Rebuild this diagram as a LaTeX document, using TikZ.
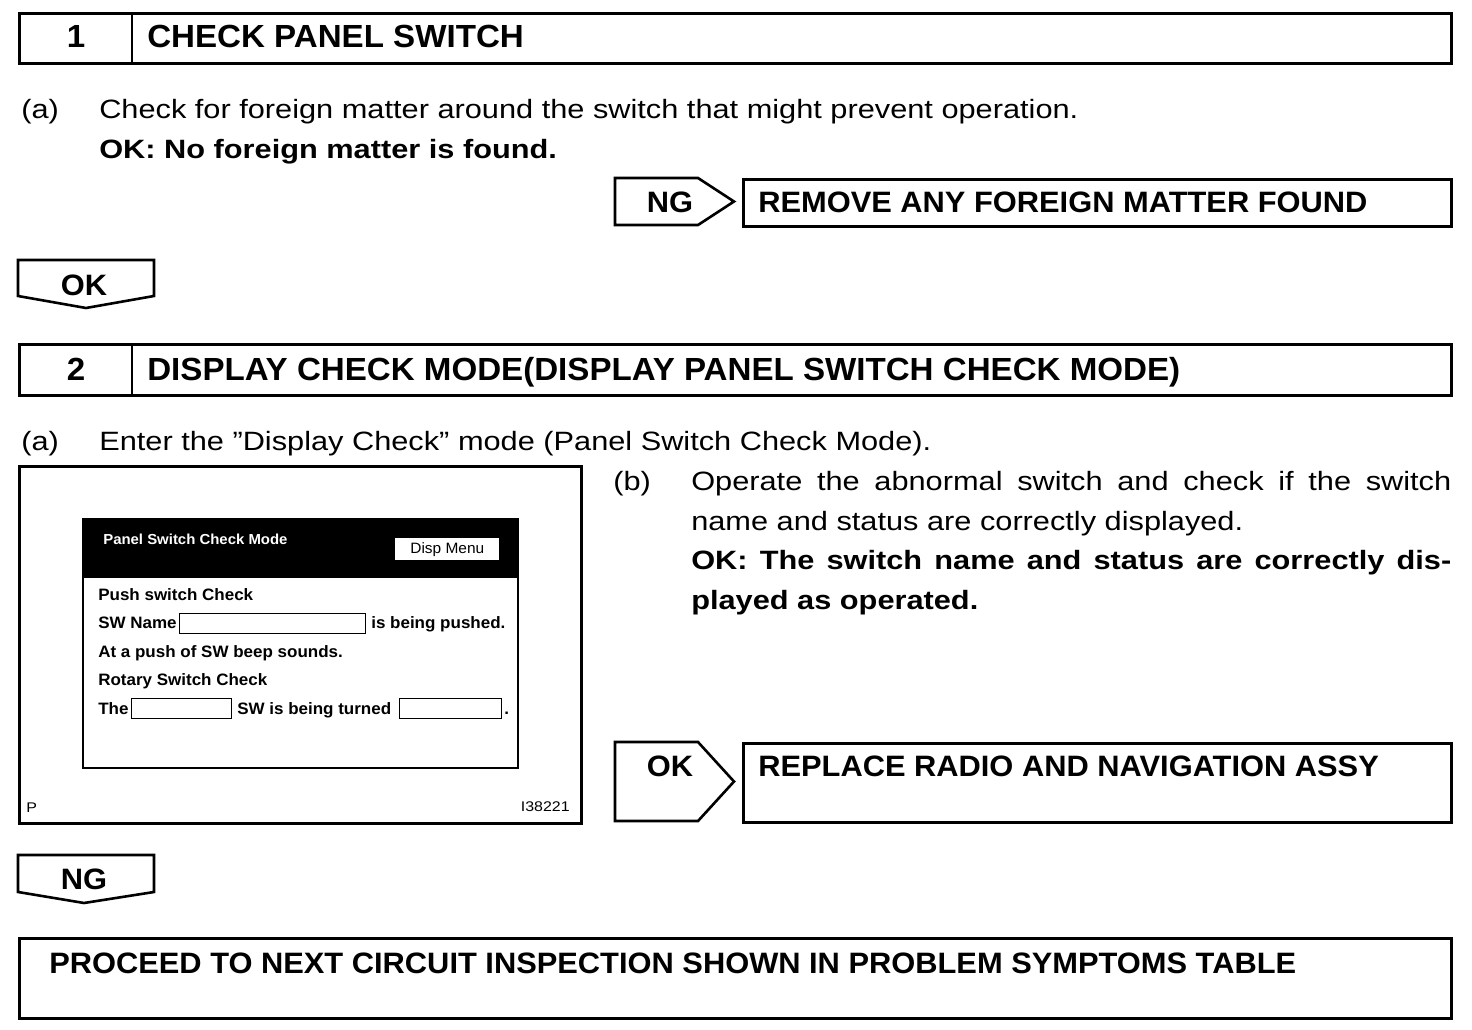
\documentclass[tikz,border=0pt]{standalone}
\usepackage{fontspec}
\setmainfont{Liberation Sans}
\newfontfamily\bodyfont[FakeStretch=1.16]{Liberation Sans}
\newfontfamily\headfont[FakeStretch=1.035]{Liberation Sans}
\newfontfamily\resfont[FakeStretch=1.045]{Liberation Sans}
\newfontfamily\scrfont[FakeStretch=1.03]{Liberation Sans}
\newfontfamily\smallfont[FakeStretch=1.14]{Liberation Sans}
\usetikzlibrary{positioning}

\begin{document}
\begin{tikzpicture}[x=1pt, y=-1pt, line width=2.6pt, line join=miter,
    box/.style={draw, rectangle, inner sep=0pt, anchor=north west},
    title/.style={font=\headfont\fontsize{32}{38}\selectfont\bfseries, anchor=base west, inner sep=0pt},
    body/.style={font=\bodyfont\fontsize{26.5}{40}\selectfont, anchor=base west, inner sep=0pt},
    bodybf/.style={body, font=\bodyfont\fontsize{26.5}{40}\selectfont\bfseries},
    result/.style={font=\resfont\fontsize{29.5}{34}\selectfont\bfseries, anchor=base west, inner sep=0pt},
    scr/.style={font=\scrfont\fontsize{16.5}{20}\selectfont\bfseries, anchor=base west, inner sep=0pt},
    field/.style={draw, rectangle, line width=1.3pt, inner sep=0pt, anchor=north west}]
    \useasboundingbox (0,0) rectangle (1472,1030);
    % Step 1
    \node[box, minimum width=1432pt, minimum height=50pt] (step1) at (18,12) {};
    \draw ([xshift=114pt]step1.north west) -- ([xshift=114pt]step1.south west);
    \node[title, anchor=base] (num1) at (76,48) {1};
    \node[title] (title1) at (146,48) {CHECK PANEL SWITCH};
    \node[body] (a1) at (20,119) {(a)};
    \node[body] (check1) at (98,119) {Check for foreign matter around the switch that might prevent operation.};
    \node[bodybf] (ok1) at (98,158) {OK: No foreign matter is found.};
    % NG -> remove
    \draw (615,178) -- (698,178) -- (734,201.5) -- (698,225) -- (615,225) -- cycle;
    \node[result, anchor=base] (ngtab1) at (670,212) {NG};
    \node[box, minimum width=708pt, minimum height=47pt] (remove) at (742,178) {};
    \node[result] (removetxt) at (757,212) {REMOVE ANY FOREIGN MATTER FOUND};
    % OK down
    \draw (18,260) -- (154,260) -- (154,296) -- (86,308) -- (18,296) -- cycle;
    \node[result, anchor=base] (oktab1) at (84,295) {OK};
    % Step 2
    \node[box, minimum width=1432pt, minimum height=51pt] (step2) at (18,343) {};
    \draw ([xshift=114pt]step2.north west) -- ([xshift=114pt]step2.south west);
    \node[title, anchor=base] (num2) at (76,380) {2};
    \node[title] (title2) at (146,380) {DISPLAY CHECK MODE(DISPLAY PANEL SWITCH CHECK MODE)};
    \node[body] (a2) at (20,450) {(a)};
    \node[body] (enter) at (98,450) {Enter the ”Display Check” mode (Panel Switch Check Mode).};
    % Screen picture
    \node[box, minimum width=562pt, minimum height=357pt] (frame) at (18,465) {};
    \node[box, line width=2pt, minimum width=435pt, minimum height=249pt] (panel) at (82,518) {};
    \node[box, fill=black, draw=none, minimum width=435pt, minimum height=59pt] (band) at (82,518) {};
    \node[scr, text=white, font=\scrfont\fontsize{14.5}{20}\selectfont\bfseries] (ptitle) at (102,544) {Panel Switch Check Mode};
    \node[box, fill=white, draw=none, minimum width=104pt, minimum height=22pt] (disp) at (394,537) {};
    \node[font=\scrfont\fontsize{15}{18}\selectfont] (disptxt) at (disp) {Disp Menu};
    \node[scr] (push) at (97,600) {Push switch Check};
    \node[scr] (swname) at (97,628) {SW Name};
    \node[field, minimum width=186pt, minimum height=20pt] (f1) at (179,613) {};
    \node[scr] (pushed) at (370,628) {is being pushed.};
    \node[scr] (beep) at (97,657) {At a push of SW beep sounds.};
    \node[scr] (rotary) at (97,685) {Rotary Switch Check};
    \node[scr] (the) at (97,714) {The};
    \node[field, minimum width=100pt, minimum height=20pt] (f2) at (131,698) {};
    \node[scr] (turned) at (236,714) {SW is being turned};
    \node[field, minimum width=102pt, minimum height=20pt] (f3) at (399,698) {};
    \node[scr] (dot) at (503,714) {.};
    \node[font=\smallfont\fontsize{14}{18}\selectfont, anchor=base west, inner sep=0pt] (pmark) at (25,812) {P};
    \node[font=\smallfont\fontsize{14}{18}\selectfont, anchor=base east, inner sep=0pt] (fig) at (571,811) {I38221};
    % (b)
    \node[body] (b2) at (612,490) {(b)};
    \node[body] (op1) at (690,490) {\makebox[760pt][s]{Operate the abnormal switch and check if the switch}};
    \node[body] (op2) at (690,530) {name and status are correctly displayed.};
    \node[bodybf] (ok2a) at (690,569) {\makebox[760pt][s]{OK: The switch name and status are correctly dis-}};
    \node[bodybf] (ok2b) at (690,609) {played as operated.};
    % OK -> replace
    \draw (615,742) -- (698,742) -- (734,781.5) -- (698,821) -- (615,821) -- cycle;
    \node[result, anchor=base] (oktab2) at (670,776) {OK};
    \node[box, minimum width=708pt, minimum height=79pt] (replace) at (742,742) {};
    \node[result] (replacetxt) at (757,776) {REPLACE RADIO AND NAVIGATION ASSY};
    % NG down -> proceed
    \draw (18,855) -- (154,855) -- (154,892) -- (84,903) -- (18,892) -- cycle;
    \node[result, anchor=base] (ngtab2) at (84,889) {NG};
    \node[box, minimum width=1432pt, minimum height=80pt] (proceed) at (18,937) {};
    \node[result] (proceedtxt) at (48,973) {PROCEED TO NEXT CIRCUIT INSPECTION SHOWN IN PROBLEM SYMPTOMS TABLE};
\end{tikzpicture}
\end{document}
